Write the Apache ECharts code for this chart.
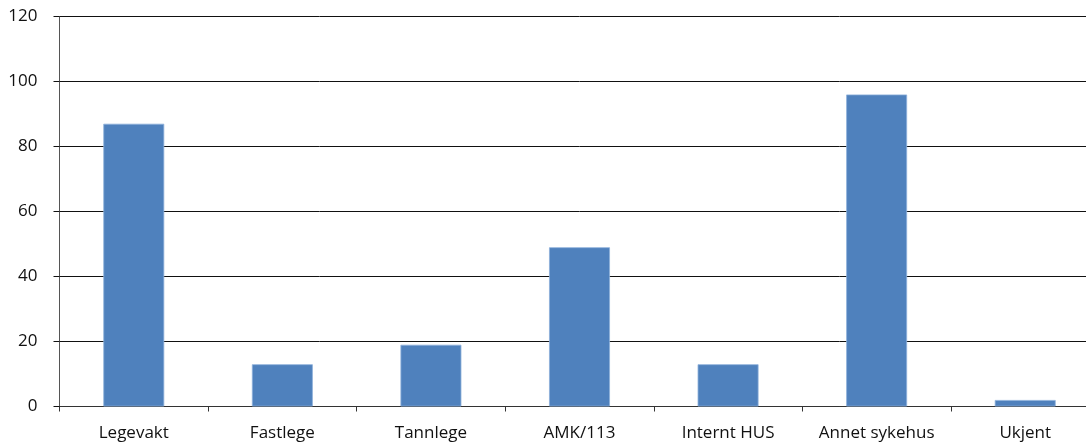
<!DOCTYPE html>
<html>
<head>
<meta charset="utf-8">
<style>
  html, body { margin: 0; padding: 0; background: #ffffff; overflow: hidden; }
  #frame { width: 1086px; height: 442px; overflow: hidden; }
  /* the plot runs a little past the right edge of the frame */
  #chart { width: 1100px; height: 442px; }
</style>
<script src="https://cdn.jsdelivr.net/npm/echarts@6/dist/echarts.min.js"></script>
</head>
<body>
<div id="frame"><div id="chart"></div></div>
<script>
// Henvisningskilde: antall per kategori
var categories = ['Legevakt', 'Fastlege', 'Tannlege', 'AMK/113', 'Internt HUS', 'Annet sykehus', 'Ukjent'];
var counts = [87, 13, 19, 49, 13, 96, 2];
var yTicks = { min: 0, max: 120, interval: 20 };

var chart = echarts.init(document.getElementById('chart'), null, { renderer: 'canvas' });
var fontFamily = '"Open Sans", "Noto Sans", sans-serif';

chart.setOption({
  animation: false,
  backgroundColor: '#ffffff',
  grid: { left: 59.5, top: 16.5, width: 1040, bottom: 35.5 },
  xAxis: {
    type: 'category',
    data: categories,
    axisLine: { show: true, lineStyle: { color: '#333333', width: 1 } },
    axisTick: { show: true, alignWithLabel: false, length: 5, inside: false, lineStyle: { color: '#333333' } },
    axisLabel: { color: '#111111', fontSize: 17, fontFamily: fontFamily, margin: 18, interval: 0 },
    splitLine: { show: false }
  },
  yAxis: {
    type: 'value',
    min: yTicks.min,
    max: yTicks.max,
    interval: yTicks.interval,
    axisLine: { show: true, lineStyle: { color: '#555555', width: 1 } },
    axisTick: { show: true, length: 6, lineStyle: { color: '#111111' } },
    axisLabel: { color: '#111111', fontSize: 17, fontFamily: fontFamily, margin: 22 },
    splitLine: { show: true, lineStyle: { color: '#111111', width: 1 } }
  },
  series: [{
    type: 'bar',
    data: counts,
    barWidth: '41%',
    itemStyle: { color: '#4f81bd', borderColor: '#8db0da', borderWidth: 0.8 }
  }]
});
</script>
</body>
</html>
